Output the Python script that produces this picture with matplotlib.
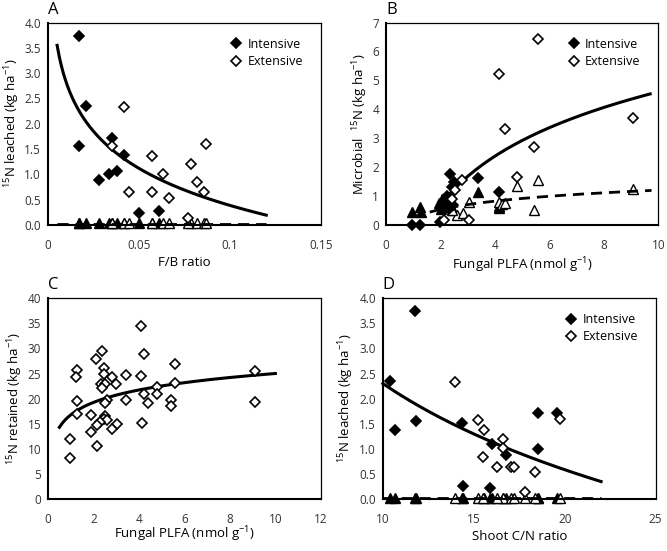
import numpy as np
import matplotlib
matplotlib.use('Agg')
import matplotlib.pyplot as plt

plt.rcParams['font.family'] = ['Open Sans', 'DejaVu Sans']
plt.rcParams['mathtext.default'] = 'regular'

# Panel A: 15N leached vs F/B ratio
a_int_x = [0.0169, 0.0211, 0.0171, 0.035, 0.0279, 0.0334, 0.0382, 0.042, 0.0501, 0.0611]
a_int_y = [3.74, 2.35, 1.55, 1.72, 0.88, 1.0, 1.07, 1.38, 0.23, 0.28]
a_ext_x = [0.042, 0.035, 0.0569, 0.0446, 0.0573, 0.063, 0.0663, 0.0784, 0.0817, 0.0859, 0.087, 0.0767]
a_ext_y = [2.33, 1.56, 1.37, 0.65, 0.65, 1.01, 0.53, 1.2, 0.84, 0.65, 1.59, 0.13]
a_fit = (-1.057, -2.05)       # y = a*ln(x) + b
a_fit_range = (0.005, 0.12)
a_dash_y = 0.02

# Panel B: microbial 15N vs fungal PLFA
b_int_x = [0.94, 1.25, 1.96, 2.35, 2.48, 3.38, 4.14, 2.4, 2.25, 2.1, 2.3, 2.45]
b_int_y = [0.0, 0.0, 0.08, 1.76, 1.48, 1.62, 1.13, 1.3, 1.0, 0.8, 0.55, 0.7]
b_int_tri_x = [0.94, 1.26, 1.29, 3.38, 4.14, 4.14, 1.95, 2.05, 2.15, 2.3, 2.45, 2.0]
b_int_tri_y = [0.43, 0.6, 0.45, 1.13, 0.65, 0.58, 0.75, 0.9, 0.6, 0.75, 0.5, 0.55]
b_ext_x = [5.56, 4.13, 4.38, 5.42, 9.06, 4.8, 2.8, 2.53, 2.11, 3.03, 2.4]
b_ext_y = [6.44, 5.22, 3.31, 2.69, 3.70, 1.64, 1.55, 1.21, 0.15, 0.15, 0.9]
b_ext_tri_x = [4.8, 5.56, 5.42, 9.06, 3.03, 4.13, 4.25, 4.38, 2.6, 2.82, 2.4]
b_ext_tri_y = [1.33, 1.56, 0.52, 1.25, 0.80, 0.78, 0.72, 0.75, 0.35, 0.40, 0.5]
b_fit = (2.43, -0.99)
b_fit_range = (2.2, 9.7)
b_dash_fit = (0.415, 0.245)
b_dash_range = (1.6, 9.75)

# Panel C: 15N retained vs fungal PLFA
c_x = [4.11, 2.39, 4.24, 2.1, 5.57, 2.47, 1.26, 2.48, 1.25, 2.81, 3.41, 4.11, 9.09,
       2.35, 2.51, 2.38, 3.01, 4.8, 5.57, 1.28, 2.6, 2.5, 3.41, 4.38, 4.23, 4.79,
       5.42, 5.42, 9.09, 1.26, 1.9, 2.51, 2.45, 2.61, 2.28, 2.17, 3.04, 4.14, 1.91,
       2.82, 0.97, 2.14, 0.95]
c_y = [34.4, 29.5, 28.8, 27.8, 26.9, 26.1, 25.6, 24.9, 24.4, 24.4, 24.7, 24.5, 25.5,
       22.9, 22.9, 22.1, 22.9, 22.3, 23.1, 19.6, 19.8, 19.2, 19.8, 19.1, 21.0, 20.9,
       19.8, 18.6, 19.3, 17.0, 16.7, 16.6, 16.0, 15.7, 15.3, 14.7, 15.0, 15.1, 13.3,
       13.9, 12.0, 10.5, 8.2]
c_fit = (3.571, 16.78)
c_fit_range = (0.5, 10.0)

# Panel D: 15N leached vs shoot C/N ratio
d_int_x = [11.74, 10.4, 10.68, 11.8, 14.36, 16.0, 16.75, 18.53, 18.51, 19.59, 14.42, 15.87]
d_int_y = [3.75, 2.35, 1.38, 1.56, 1.51, 1.09, 0.88, 1.71, 1.0, 1.71, 0.27, 0.22]
d_ext_x = [13.98, 15.24, 15.56, 16.6, 16.6, 15.52, 16.29, 17.06, 17.2, 18.36, 17.81, 19.74]
d_ext_y = [2.33, 1.58, 1.37, 1.20, 1.01, 0.84, 0.64, 0.65, 0.64, 0.54, 0.14, 1.59]
d_fit = (-2.473, 7.995)
d_fit_range = (10.0, 22.0)
d_dash_y = 0.03

tri_y = 0.03
dia = dict(marker='D', markersize=5.5, linestyle='none', markeredgecolor='black', markeredgewidth=1.2)
tri = dict(marker='^', markersize=6.5, linestyle='none', markeredgecolor='black', markeredgewidth=1.0)


def style(ax, xlim, ylim, xticks, yticks, xlabels, ylabels, xlabel, ylabel, letter, xlabelpad=3):
    ax.set_xlim(*xlim)
    ax.set_ylim(*ylim)
    ax.set_xticks(xticks)
    ax.set_xticklabels(xlabels)
    ax.set_yticks(yticks)
    ax.set_yticklabels(ylabels)
    ax.tick_params(length=0, labelsize=8.5, colors='#333333')
    ax.tick_params(axis='x', pad=10)
    ax.tick_params(axis='y', pad=5)
    for s in ['left', 'bottom']:
        ax.spines[s].set_linewidth(1.5)
    for s in ['top', 'right']:
        ax.spines[s].set_linewidth(0.9)
    ax.set_xlabel(xlabel, fontsize=9.5, labelpad=xlabelpad)
    ax.set_ylabel(ylabel, fontsize=9.5, labelpad=2)
    ax.text(0.0, 1.025, letter, transform=ax.transAxes, fontsize=12, ha='left', va='bottom')


def logfit(ax, coef, rng, **kw):
    xs = np.linspace(rng[0], rng[1], 200)
    ax.plot(xs, coef[0] * np.log(xs) + coef[1], color='black', **kw)


def legend(ax):
    h1, = ax.plot([], [], markerfacecolor='black', **dia)
    h2, = ax.plot([], [], markerfacecolor='white', **dia)
    ax.legend([h1, h2], ['Intensive', 'Extensive'], loc='upper right', frameon=False,
              fontsize=9, handletextpad=0.1, borderaxespad=0.8, labelspacing=0.35,
              handlelength=1.6, bbox_to_anchor=(0.99, 1.0))


fig = plt.figure(figsize=(6.67, 5.51), dpi=100)
axA = fig.add_axes([0.072, 0.592, 0.409, 0.367])
axB = fig.add_axes([0.579, 0.592, 0.408, 0.367])
axC = fig.add_axes([0.072, 0.094, 0.409, 0.365])
axD = fig.add_axes([0.574, 0.094, 0.409, 0.365])

# A
axA.plot(a_int_x, [tri_y] * len(a_int_x), markerfacecolor='black', **tri)
axA.plot(a_ext_x, [tri_y] * len(a_ext_x), markerfacecolor='white', **tri)
axA.plot(a_fit_range, [a_dash_y] * 2, color='black', linestyle=(0, (4, 2.5)), linewidth=2)
logfit(axA, a_fit, a_fit_range, linewidth=2.2)
axA.plot(a_int_x, a_int_y, markerfacecolor='black', **dia)
axA.plot(a_ext_x, a_ext_y, markerfacecolor='white', **dia)
style(axA, (0, 0.15), (0, 4), [0, 0.05, 0.1, 0.15], np.arange(0, 4.01, 0.5),
      ['0', '0.05', '0.1', '0.15'], ['%.1f' % v for v in np.arange(0, 4.01, 0.5)],
      'F/B ratio', '$^{15}$N leached (kg ha$^{-1}$)', 'A')
legend(axA)

# B
axB.plot(b_int_tri_x, b_int_tri_y, markerfacecolor='black', **tri)
axB.plot(b_ext_tri_x, b_ext_tri_y, markerfacecolor='white', **tri)
logfit(axB, b_dash_fit, b_dash_range, linewidth=2, linestyle=(0, (4, 2.5)))
logfit(axB, b_fit, b_fit_range, linewidth=2.2)
axB.plot(b_int_x, b_int_y, markerfacecolor='black', **dia)
axB.plot(b_ext_x, b_ext_y, markerfacecolor='white', **dia)
style(axB, (0, 10), (0, 7), range(0, 11, 2), range(0, 8),
      [str(v) for v in range(0, 11, 2)], [str(v) for v in range(0, 8)],
      'Fungal PLFA (nmol g$^{-1}$)', 'Microbial  $^{15}$N (kg ha$^{-1}$)', 'B')
legend(axB)

# C
logfit(axC, c_fit, c_fit_range, linewidth=2.2)
axC.plot(c_x, c_y, markerfacecolor='white', **dia)
style(axC, (0, 12), (0, 40), range(0, 13, 2), range(0, 41, 5),
      [str(v) for v in range(0, 13, 2)], [str(v) for v in range(0, 41, 5)],
      'Fungal PLFA (nmol g$^{-1}$)', '$^{15}$N retained (kg ha$^{-1}$)', 'C', xlabelpad=-1)

# D
axD.plot(d_int_x, [tri_y] * len(d_int_x), markerfacecolor='black', **tri)
axD.plot(d_ext_x, [tri_y] * len(d_ext_x), markerfacecolor='white', **tri)
axD.plot(d_fit_range, [d_dash_y] * 2, color='black', linestyle=(0, (4, 2.5)), linewidth=2)
logfit(axD, d_fit, d_fit_range, linewidth=2.2)
axD.plot(d_int_x, d_int_y, markerfacecolor='black', **dia)
axD.plot(d_ext_x, d_ext_y, markerfacecolor='white', **dia)
style(axD, (10, 25), (0, 4), [10, 15, 20, 25], np.arange(0, 4.01, 0.5),
      ['10', '15', '20', '25'], ['%.1f' % v for v in np.arange(0, 4.01, 0.5)],
      'Shoot C/N ratio', '$^{15}$N leached (kg ha$^{-1}$)', 'D')
legend(axD)

for ax in [axA, axB, axC, axD]:
    for line in ax.lines:
        line.set_clip_on(False)

fig.savefig('out.png', dpi=100)
